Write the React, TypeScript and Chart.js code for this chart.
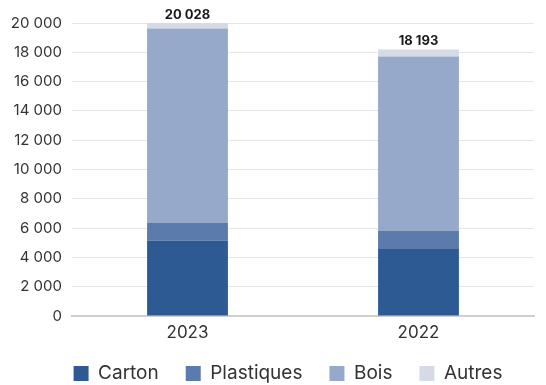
import React, { useEffect, useRef } from "react";
import { Chart, registerables } from "chart.js";

Chart.register(...registerables);

const categories = ["2023", "2022"];
const carton = [5130, 4570];
const plastiques = [1210, 1240];
const bois = [13290, 11910];
const autres = [398, 473];
const totals = ["20 028", "18 193"];
const yTicks = [0, 2000, 4000, 6000, 8000, 10000, 12000, 14000, 16000, 18000, 20000];

const FONT = "Inter, 'Noto Sans', sans-serif";

const fmt = (v: number) => {
  const s = String(Math.round(v));
  return s.replace(/\B(?=(\d{3})+(?!\d))/g, " ");
};

const totalsPlugin = {
  id: "totalsPlugin",
  afterDatasetsDraw(chart: any) {
    const ctx = chart.ctx;
    const last = chart.getDatasetMeta(chart.data.datasets.length - 1);
    ctx.save();
    ctx.font = `bold 13px ${FONT}`;
    ctx.fillStyle = "#1a1a1a";
    ctx.textAlign = "center";
    ctx.textBaseline = "alphabetic";
    last.data.forEach((el: any, i: number) => {
      ctx.fillText(totals[i], el.x, el.y - 4);
    });
    ctx.restore();
  },
};

// nudges the legend box so that it sits centred under the reference position
const legendShift = {
  id: "legendShift",
  afterLayout(chart: any) {
    const l = chart.legend;
    if (!l) return;
    const dx = 21;
    const dy = -5;
    l.left += dx;
    l.right += dx;
    l.top += dy;
    l.bottom += dy;
  },
};

export default function App() {
  const ref = useRef<HTMLCanvasElement>(null);
  useEffect(() => {
    if (!ref.current) return;
    const chart = new Chart(ref.current, {
      type: "bar",
      data: {
        labels: categories,
        datasets: [
          { label: "Carton", data: carton, backgroundColor: "#2e5a94" },
          { label: "Plastiques", data: plastiques, backgroundColor: "#5a7bab" },
          { label: "Bois", data: bois, backgroundColor: "#96a9ca" },
          { label: "Autres", data: autres, backgroundColor: "#d4dbe7" },
        ],
      },
      options: {
        responsive: false,
        animation: false,
        layout: { padding: { top: 23, right: 12, left: 0, bottom: -13 } },
        datasets: { bar: { barPercentage: 0.7, categoryPercentage: 0.5 } } as any,
        plugins: {
          legend: {
            position: "bottom",
            labels: {
              font: { family: FONT, size: 19 },
              color: "#333",
              boxWidth: 15,
              boxHeight: 15,
              padding: 27,
            },
          },
          tooltip: { enabled: false },
        },
        scales: {
          x: {
            stacked: true,
            afterFit: (s: any) => { s.height = 26; },
            grid: { display: false, drawTicks: false },
            border: { display: true, color: "#cfcfcf", width: 2 },
            ticks: { font: { family: FONT, size: 17 }, color: "#333", padding: 7 },
          },
          y: {
            stacked: true,
            min: 0,
            max: 20000,
            afterFit: (s: any) => { s.width = 72; },
            afterBuildTicks: (s: any) => { s.ticks = yTicks.map((v) => ({ value: v })); },
            grid: { color: "#e6e6e6", drawTicks: false },
            border: { display: false },
            ticks: {
              font: { family: FONT, size: 15 },
              color: "#333",
              padding: 10,
              callback: (v: any) => fmt(Number(v)),
            },
          },
        },
      },
      plugins: [totalsPlugin, legendShift],
    });
    return () => chart.destroy();
  }, []);
  return (
    <div style={{ position: "fixed", left: 0, top: 0, width: 546, height: 385, background: "#fff" }}>
      <canvas ref={ref} width={546} height={385} style={{ display: "block" }} />
    </div>
  );
}
